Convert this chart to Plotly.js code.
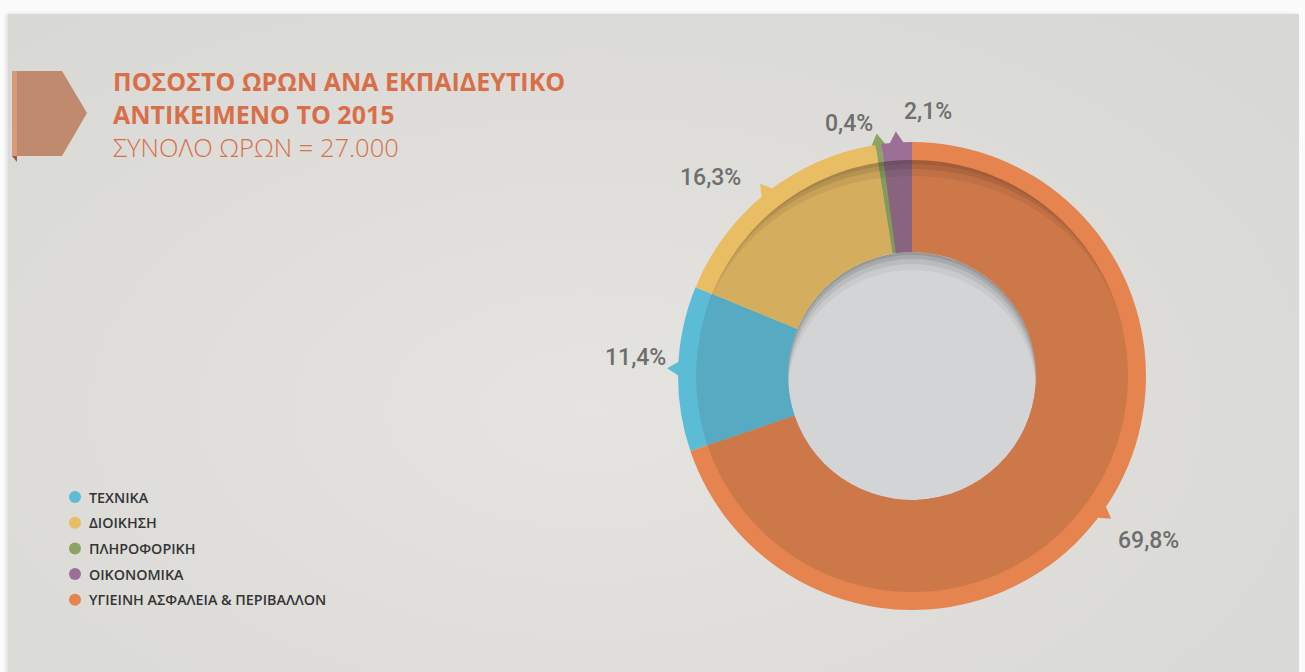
<!DOCTYPE html>
<html>
<head>
<meta charset="utf-8">
<script src="https://cdn.plot.ly/plotly-3.0.1.min.js"></script>
<style>
  html, body { margin: 0; padding: 0; background: #ffffff; }
  #wrap { position: relative; width: 1305px; height: 672px; overflow: hidden; background: #fbfbfb; }
  #panel { position: absolute; left: 8px; top: 14px; width: 1291px; height: 660px;
    background: radial-gradient(ellipse 70% 80% at 45% 60%, #e5e4e1 0%, #dfdedb 45%, #d8d8d4 100%);
    box-shadow: -2px 0 4px rgba(0,0,0,0.12); }
  #plot { position: absolute; left: 0; top: 0; width: 1305px; height: 672px; }
</style>
</head>
<body>
<div id="wrap"><div id="panel"></div><div id="plot"></div></div>
<script>
// ---- data ----
const categories = ['ΤΕΧΝΙΚΑ', 'ΔΙΟΙΚΗΣΗ', 'ΠΛΗΡΟΦΟΡΙΚΗ', 'ΟΙΚΟΝΟΜΙΚΑ', 'ΥΓΙΕΙΝΗ ΑΣΦΑΛΕΙΑ & ΠΕΡΙΒΑΛΛΟΝ'];
const percentages = [11.4, 16.3, 0.4, 2.1, 69.8];
const titleLines = ['ΠΟΣΟΣΤΟ ΩΡΩΝ ΑΝΑ ΕΚΠΑΙΔΕΥΤΙΚΟ', 'ΑΝΤΙΚΕΙΜΕΝΟ ΤΟ 2015'];
const subtitle = 'ΣΥΝΟΛΟ ΩΡΩΝ = 27.000';

// ---- styles ----
const outerColors = ['#5dbcd5', '#e9bd63', '#8ea262', '#9c7096', '#e6844f'];
const innerColors = ['#56aac1', '#d5ad5e', '#809b5a', '#88647f', '#cd7849'];
const W = 1305, H = 672;
const CX = 912, CY = 376, R_OUT = 234, R_IN = 216, R_HOLE = 124;
// label centres (px) for each category
const labelPos = [[635, 357], [710, 177], [849, 123], [928, 112], [1148, 540]];

const px = x => x / W;
const py = y => 1 - y / H;

function domainFor(r) {
  return { x: [px(CX - r), px(CX + r)], y: [py(CY + r), py(CY - r)] };
}

const total = percentages.reduce((a, b) => a + b, 0);
const last = percentages[percentages.length - 1];
// clockwise angle from 12 o'clock where the first slice starts, so the last (largest) slice begins at the top
const startAngle = 360 * last / total;

const outerPie = {
  type: 'pie', values: percentages, labels: categories, sort: false,
  direction: 'clockwise', rotation: startAngle, hole: R_HOLE / R_OUT,
  domain: domainFor(R_OUT), textinfo: 'none', hoverinfo: 'label+percent',
  marker: { colors: outerColors, line: { width: 0 } }, showlegend: false
};
const innerPie = {
  type: 'pie', values: percentages, labels: categories, sort: false,
  direction: 'clockwise', rotation: startAngle, hole: R_HOLE / R_IN,
  domain: domainFor(R_IN), textinfo: 'none', hoverinfo: 'label+percent',
  marker: { colors: innerColors, line: { width: 0 } }, showlegend: false
};

const shapes = [];
const annotations = [];

// hole background with top inner shadow
function circle(cx, cy, r, color) {
  shapes.push({ type: 'circle', xref: 'paper', yref: 'paper', layer: 'below',
    x0: px(cx - r), x1: px(cx + r), y0: py(cy + r), y1: py(cy - r),
    fillcolor: color, line: { width: 0 } });
}
circle(CX, CY, R_HOLE, '#97989a');
circle(CX, CY + 3, R_HOLE, '#a9aaac');
circle(CX, CY + 7, R_HOLE, '#bbbcbe');
circle(CX, CY + 12, R_HOLE, '#c9cacc');
circle(CX, CY + 18, R_HOLE, '#d3d4d6');

// soft shadow on top of the inner ring (under the outer rim)
function crescent(thick, span, color) {
  const pts = [];
  for (let a = -span; a <= span; a += 2) {
    const t = a * Math.PI / 180;
    pts.push([CX + R_IN * Math.sin(t), CY - R_IN * Math.cos(t)]);
  }
  for (let a = span; a >= -span; a -= 2) {
    const t = a * Math.PI / 180;
    const f = Math.cos(t * 90 / span);
    const r = R_IN - thick * f * f;
    pts.push([CX + r * Math.sin(t), CY - r * Math.cos(t)]);
  }
  const d = pts.map((p, k) => (k ? 'L ' : 'M ') + px(p[0]) + ' ' + py(p[1])).join(' ') + ' Z';
  shapes.push({ type: 'path', xref: 'paper', yref: 'paper', layer: 'above', path: d,
    fillcolor: color, line: { width: 0 } });
}
crescent(16, 80, 'rgba(40,20,20,0.08)');
crescent(9, 70, 'rgba(40,20,20,0.10)');
crescent(4, 60, 'rgba(40,20,20,0.10)');

// pointer triangles at slice mid angles
let cum = startAngle;
percentages.forEach((v, i) => {
  const span = 360 * v / total;
  const mid = (cum + span / 2) * Math.PI / 180;
  cum += span;
  const dx = Math.sin(mid), dy = -Math.cos(mid);
  const pxv = Math.cos(mid), pyv = Math.sin(mid);
  const b = R_OUT - 3, t = R_OUT + 11, hw = 8.5;
  const p1 = [CX + b * dx + hw * pxv, CY + b * dy + hw * pyv];
  const p2 = [CX + b * dx - hw * pxv, CY + b * dy - hw * pyv];
  const p3 = [CX + t * dx, CY + t * dy];
  shapes.push({ type: 'path', xref: 'paper', yref: 'paper', layer: 'below',
    path: `M ${px(p1[0])} ${py(p1[1])} L ${px(p3[0])} ${py(p3[1])} L ${px(p2[0])} ${py(p2[1])} Z`,
    fillcolor: outerColors[i], line: { width: 0 } });
  annotations.push({ xref: 'paper', yref: 'paper', x: px(labelPos[i][0]), y: py(labelPos[i][1]),
    xanchor: 'center', yanchor: 'middle', showarrow: false,
    text: v.toFixed(1).replace('.', ',') + '%',
    font: { family: 'Roboto, Noto Sans, sans-serif', size: 23, color: '#6e6e6e', weight: 500 } });
});

// ribbon at title
shapes.push({ type: 'path', xref: 'paper', yref: 'paper', layer: 'above',
  path: `M ${px(12)} ${py(71)} L ${px(62)} ${py(71)} L ${px(87)} ${py(113)} L ${px(62)} ${py(156)} L ${px(12)} ${py(156)} Z`,
  fillcolor: '#bf8a6e', line: { width: 0 } });
shapes.push({ type: 'rect', xref: 'paper', yref: 'paper', layer: 'above',
  x0: px(12), x1: px(17), y0: py(156), y1: py(71), fillcolor: '#d9997b', line: { width: 0 } });
shapes.push({ type: 'path', xref: 'paper', yref: 'paper', layer: 'above',
  path: `M ${px(12)} ${py(156)} L ${px(17)} ${py(156)} L ${px(17)} ${py(162)} Z`,
  fillcolor: '#9b5a3e', line: { width: 0 } });

// title
const titleColor = '#d86f48';
const titleFont = 'Open Sans, Roboto, sans-serif';
annotations.push({ xref: 'paper', yref: 'paper', x: px(111), y: py(81), xanchor: 'left', yanchor: 'middle',
  showarrow: false, text: titleLines[0],
  font: { family: titleFont, size: 25, color: titleColor, weight: 700 } });
annotations.push({ xref: 'paper', yref: 'paper', x: px(111), y: py(114), xanchor: 'left', yanchor: 'middle',
  showarrow: false, text: titleLines[1],
  font: { family: titleFont, size: 25, color: titleColor, weight: 700 } });
annotations.push({ xref: 'paper', yref: 'paper', x: px(111), y: py(147), xanchor: 'left', yanchor: 'middle',
  showarrow: false, text: subtitle,
  font: { family: titleFont, size: 25.5, color: titleColor, weight: 300 } });

// legend
const legendY0 = 497, legendStep = 25.7;
categories.forEach((c, i) => {
  const y = legendY0 + i * legendStep;
  shapes.push({ type: 'circle', xref: 'paper', yref: 'paper', layer: 'above',
    x0: px(75 - 6), x1: px(75 + 6), y0: py(y + 6), y1: py(y - 6),
    fillcolor: outerColors[i], line: { width: 0 } });
  annotations.push({ xref: 'paper', yref: 'paper', x: px(87), y: py(y), xanchor: 'left', yanchor: 'middle',
    showarrow: false, text: c,
    font: { family: 'Open Sans, Roboto, sans-serif', size: 14.3, color: '#343434', weight: 600 } });
});

const layout = {
  width: W, height: H,
  margin: { l: 0, r: 0, t: 0, b: 0, pad: 0 },
  paper_bgcolor: 'rgba(0,0,0,0)', plot_bgcolor: 'rgba(0,0,0,0)',
  showlegend: false,
  shapes: shapes, annotations: annotations
};

Plotly.newPlot('plot', [outerPie, innerPie], layout, { displayModeBar: false, staticPlot: true });
</script>
</body>
</html>
